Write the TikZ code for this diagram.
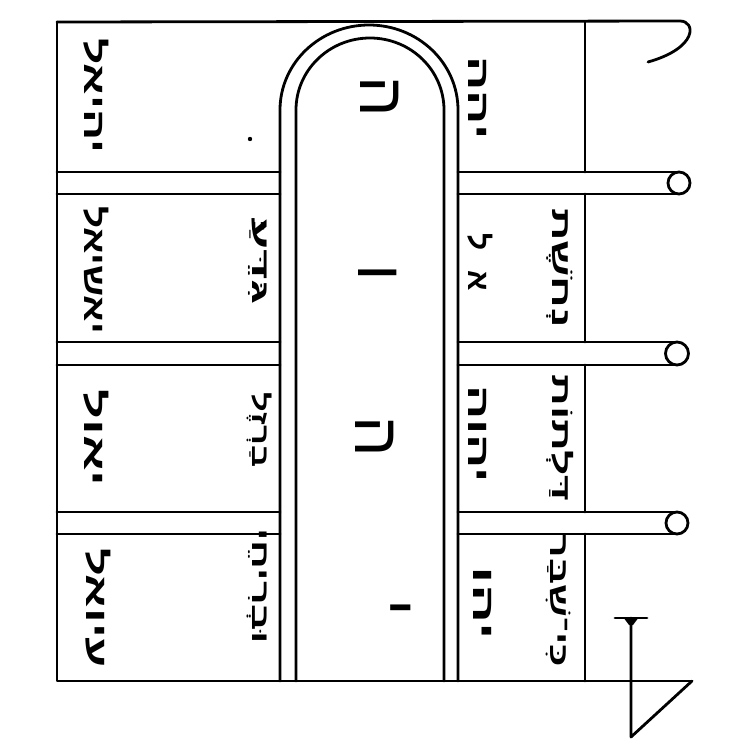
\documentclass[tikz,border=0pt]{standalone}
\usepackage{fontspec}
\usepackage{graphicx}
\newfontfamily\heb[Script=Hebrew]{Liberation Sans}
\TeXXeTstate=1
\newcommand\hw[2]{\resizebox{#1}{\height}{\beginR #2\endR}}
\begin{document}
\begin{tikzpicture}[x=1pt,y=-1pt,
  ink/.style={line width=2.8pt, line cap=round, line join=round},
  bigname/.style={font=\heb\bfseries\fontsize{30}{30}\selectfont, rotate=-90, anchor=base, inner sep=0pt},
  smallw/.style={font=\heb\bfseries\fontsize{24}{24}\selectfont, rotate=-90, anchor=base, inner sep=0pt},
  outerw/.style={font=\heb\bfseries\fontsize{26}{26}\selectfont, rotate=-90, anchor=base, inner sep=0pt},
  innerw/.style={font=\heb\bfseries\fontsize{30}{30}\selectfont, rotate=-90, anchor=base, inner sep=0pt},
  centl/.style={font=\heb\fontsize{64}{64}\selectfont, rotate=-90, anchor=base, inner sep=0pt}]
\useasboundingbox (0,0) rectangle (750,750);
% frame
\draw[ink] (57,22) -- (57,681) -- (692,681);
\draw[ink] (57,22) -- (680,21) .. controls (696,21) and (698,48) .. (648,62);
\draw[ink] (585,22) -- (585,172);
\draw[ink] (585,194) -- (585,342);
\draw[ink] (585,365) -- (585,512);
\draw[ink] (585,534) -- (585,681);
% left bars
\foreach \a/\b in {172/194, 342/365, 512/534}{
  \draw[ink] (57,\a) -- (280,\a);
  \draw[ink] (57,\b) -- (280,\b);
}
% right bars with rings
\draw[ink] (458,172) -- (679,172); \draw[ink] (458,194) -- (679,194);
\draw[ink] (679,183) circle[radius=11pt];
\draw[ink] (458,342) -- (677,342); \draw[ink] (458,365) -- (677,365);
\draw[ink] (677,353.5) circle[radius=11.5pt];
\draw[ink] (458,512) -- (677,512); \draw[ink] (458,534) -- (677,534);
\draw[ink] (677,523) circle[radius=11pt];
% arch
\draw[ink] (280,681) -- (280,110) arc[start angle=180,end angle=0,x radius=89pt,y radius=85pt] -- (458,681);
\draw[ink] (296,681) -- (296,110) arc[start angle=180,end angle=0,x radius=74pt,y radius=72pt] -- (444,681);
% T and triangle
\draw[ink] (615,618) -- (647,618);
\fill (623,617) -- (639,617) -- (633,625) -- (629,625) -- cycle;
\draw[ink] (631,618) -- (631,737) -- (692,681);
\fill (250,139) circle[radius=2.2pt];
% center name
\node[centl] (c1) at (360,97) {\beginR ה\endR};
\node[centl] (c2) at (358,273) {\beginR ו\endR};
\node[centl] (c3) at (355,437) {\beginR ה\endR};
\node[centl] (c4) at (372,608) {\beginR י\endR};
% left names
\node[bigname] (l1) at (84,96) {\hw{115pt}{יהיאל}};
\node[bigname] (l2) at (84,270) {\hw{128pt}{יאשיאל}};
\node[bigname] (l3) at (84,438) {\hw{97pt}{יאול}};
\node[bigname] (l4) at (86,608) {\hw{120pt}{עיואל}};
% left small words
\node[smallw] (s2) at (252,261) {\hw{88pt}{גִּדֵּעַ׃}};
\node[smallw] (s3) at (252,430) {\hw{75pt}{בַרְזֶל}};
\node[smallw] (s4) at (252,586) {\hw{115pt}{וּבְרִיחֵי}};
% right inner
\node[innerw] (r1) at (468,98) {\hw{83pt}{יהה}};
\node[innerw] (r2) at (468,262) {\beginR א\hspace{20pt}ל\endR};
\node[innerw] (r3) at (468,434) {\hw{98pt}{יהוה}};
\node[innerw] (r4) at (473,603) {\hw{73pt}{יהו}};
% right outer
\node[outerw] (o2) at (552,268) {\hw{120pt}{נְחֹשֶׁת}};
\node[outerw] (o3) at (552,438) {\hw{127pt}{דַּלְתוֹת}};
\node[outerw] (o4) at (550,601) {\hw{133pt}{כִּי־שִׁבַּר}};
\end{tikzpicture}
\end{document}
